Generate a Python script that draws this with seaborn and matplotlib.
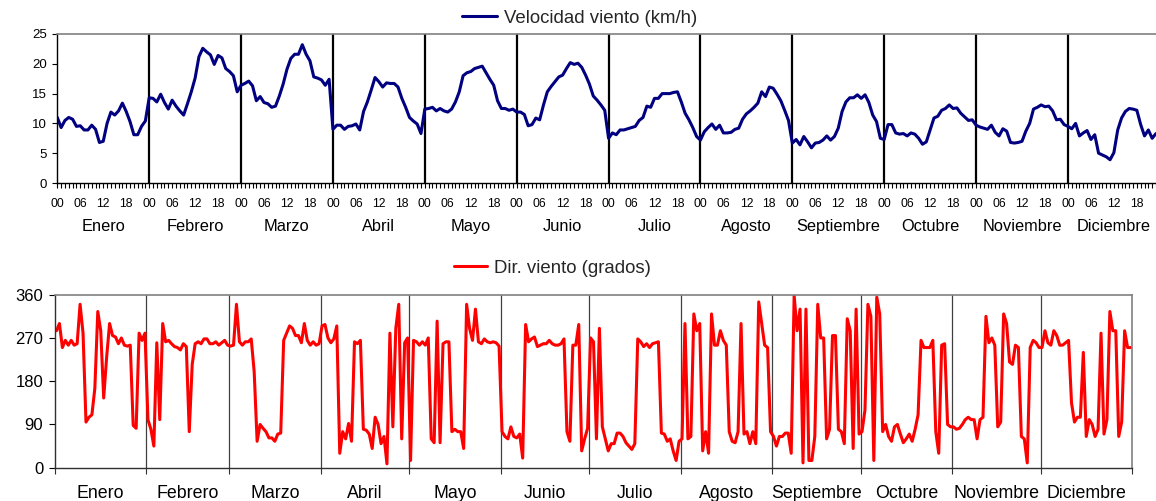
import numpy as np
import pandas as pd
import matplotlib
matplotlib.use("Agg")
import matplotlib.pyplot as plt
import matplotlib.transforms as mtransforms
import seaborn as sns

# ---------------- data ----------------
meses = ["Enero", "Febrero", "Marzo", "Abril", "Mayo", "Junio", "Julio",
         "Agosto", "Septiembre", "Octubre", "Noviembre", "Diciembre"]
horas = list(range(24))
etiquetas_hora = ["00", "06", "12", "18"]
dias_mes = [31, 28, 31, 30, 31, 30, 31, 31, 30, 31, 30, 31]

# Velocidad media horaria (km/h) por mes
vel_ene = [11.0, 9.3, 10.5, 11.0, 10.7, 9.5, 9.6, 8.9, 8.9, 9.7, 9.0, 6.8, 7.0, 10.0, 11.9, 11.4, 12.1, 13.4, 12.0, 10.3, 8.1, 8.1, 9.5, 10.4]
vel_feb = [14.3, 14.2, 13.6, 14.9, 13.5, 12.4, 13.9, 12.9, 12.1, 11.4, 13.3, 15.3, 17.6, 21.2, 22.6, 22.0, 21.5, 19.9, 21.4, 21.0, 19.2, 18.7, 18.0, 15.3]
vel_mar = [16.4, 16.7, 17.1, 16.3, 13.8, 14.5, 13.5, 13.3, 12.7, 12.9, 14.6, 16.6, 19.1, 20.9, 21.6, 21.6, 23.2, 21.6, 20.5, 17.8, 17.6, 17.3, 16.4, 17.4]
vel_abr = [9.0, 9.7, 9.7, 9.0, 9.5, 9.6, 9.9, 8.9, 12.0, 13.6, 15.6, 17.7, 17.0, 16.1, 16.8, 16.7, 16.7, 16.1, 14.2, 12.7, 11.0, 10.4, 9.9, 8.3]
vel_may = [12.4, 12.5, 12.7, 12.1, 12.5, 12.1, 11.9, 12.4, 13.6, 15.3, 18.0, 18.5, 18.7, 19.2, 19.4, 19.6, 18.5, 17.4, 16.4, 13.8, 12.5, 12.5, 12.2, 12.4]
vel_jun = [11.9, 11.9, 11.5, 9.6, 9.8, 10.9, 10.6, 13.1, 15.3, 16.2, 17.0, 17.8, 18.1, 19.2, 20.2, 19.9, 20.1, 19.4, 18.1, 16.6, 14.6, 13.9, 13.1, 12.2]
vel_jul = [7.5, 8.4, 8.1, 8.9, 8.9, 9.1, 9.3, 9.5, 10.5, 11.0, 12.9, 12.7, 14.2, 14.2, 15.0, 15.0, 15.0, 15.2, 15.3, 13.6, 11.7, 10.6, 9.3, 7.8]
vel_ago = [7.2, 8.6, 9.3, 9.9, 9.0, 9.7, 8.4, 8.4, 8.5, 9.0, 9.2, 10.7, 11.6, 12.1, 12.7, 13.4, 15.3, 14.5, 16.1, 15.9, 14.9, 13.8, 12.2, 10.5]
vel_sep = [6.7, 7.3, 6.4, 7.8, 6.9, 5.9, 6.7, 6.8, 7.2, 7.9, 7.2, 7.8, 9.2, 12.0, 13.6, 14.3, 14.3, 14.8, 14.2, 14.8, 13.5, 11.4, 10.3, 7.5]
vel_oct = [7.3, 9.8, 9.8, 8.4, 8.2, 8.3, 7.9, 8.4, 8.2, 7.5, 6.5, 6.9, 8.9, 10.9, 11.2, 12.2, 12.5, 13.1, 12.5, 12.6, 11.7, 11.1, 10.5, 10.6]
vel_nov = [9.7, 9.4, 9.2, 9.0, 9.7, 8.5, 7.9, 9.1, 8.7, 6.8, 6.7, 6.8, 7.0, 8.7, 10.0, 12.4, 12.7, 13.1, 12.8, 12.9, 12.1, 10.6, 10.7, 9.8]
vel_dic = [9.5, 9.1, 10.0, 7.9, 8.4, 8.8, 7.3, 8.1, 5.0, 4.7, 4.4, 3.9, 5.1, 8.9, 10.9, 12.0, 12.5, 12.4, 12.2, 9.8, 7.9, 8.9, 7.5, 8.3]

# Dirección media diaria (grados) por mes
dir_ene = [285, 300, 250, 265, 255, 265, 255, 258, 340, 280, 95, 105, 110, 165, 325, 285, 145, 230, 300, 275, 272, 258, 270, 255, 253, 255, 88, 82, 280, 265, 280]
dir_feb = [100, 80, 45, 260, 100, 300, 262, 265, 258, 252, 250, 245, 258, 252, 75, 215, 258, 262, 258, 268, 268, 258, 258, 262, 255, 260, 265, 255]
dir_mar = [253, 255, 340, 262, 255, 262, 262, 268, 200, 55, 90, 82, 75, 62, 62, 55, 70, 72, 265, 280, 295, 290, 275, 275, 260, 300, 265, 255, 262, 255, 258]
dir_abr = [295, 298, 270, 260, 268, 295, 30, 75, 60, 92, 55, 262, 258, 265, 80, 78, 70, 40, 105, 90, 50, 65, 8, 280, 85, 290, 340, 60, 260, 270]
dir_may = [15, 265, 262, 255, 262, 255, 270, 60, 52, 305, 52, 258, 262, 262, 75, 80, 75, 75, 40, 340, 290, 265, 330, 262, 258, 268, 262, 260, 262, 260, 253]
dir_jun = [75, 65, 60, 85, 65, 62, 70, 20, 298, 262, 268, 272, 252, 255, 258, 258, 265, 258, 255, 255, 258, 268, 75, 55, 255, 255, 298, 35, 60, 82]
dir_jul = [270, 262, 60, 290, 85, 60, 35, 50, 50, 72, 72, 65, 52, 45, 38, 50, 268, 262, 252, 258, 250, 258, 260, 262, 72, 70, 55, 60, 35, 15, 55]
dir_ago = [60, 300, 60, 65, 320, 285, 300, 35, 75, 30, 320, 255, 255, 285, 265, 255, 75, 55, 52, 75, 300, 70, 75, 50, 75, 50, 345, 300, 255, 250, 75]
dir_sep = [65, 45, 65, 65, 72, 72, 30, 358, 285, 330, 10, 330, 15, 15, 65, 340, 270, 270, 60, 80, 275, 275, 80, 75, 50, 310, 285, 40, 330, 70]
dir_oct = [75, 120, 340, 315, 15, 355, 320, 75, 90, 65, 55, 85, 90, 70, 52, 60, 70, 55, 80, 110, 265, 250, 250, 250, 265, 75, 30, 255, 258, 90, 85]
dir_nov = [85, 80, 82, 90, 100, 105, 100, 100, 60, 100, 105, 315, 260, 270, 255, 85, 95, 320, 300, 220, 215, 255, 250, 65, 60, 10, 250, 265, 260, 250]
dir_dic = [250, 285, 260, 255, 285, 275, 255, 255, 260, 265, 135, 95, 105, 105, 240, 65, 100, 90, 65, 80, 280, 70, 100, 325, 285, 285, 65, 95, 285, 250, 250]

vel_meses = [vel_ene, vel_feb, vel_mar, vel_abr, vel_may, vel_jun,
             vel_jul, vel_ago, vel_sep, vel_oct, vel_nov, vel_dic]
dir_meses = [dir_ene, dir_feb, dir_mar, dir_abr, dir_may, dir_jun,
             dir_jul, dir_ago, dir_sep, dir_oct, dir_nov, dir_dic]

# ---------------- tables ----------------
rows = []
for m, serie in enumerate(vel_meses):
    for h, v in zip(horas, serie):
        rows.append({"pos": m * 24 + h, "vel": v})
df_vel = pd.DataFrame(rows)

rows = []
inicio = np.concatenate([[0], np.cumsum(dias_mes)])
for m, serie in enumerate(dir_meses):
    for d, v in enumerate(serie):
        rows.append({"pos": inicio[m] + d + 0.5, "dir": v})
df_dir = pd.DataFrame(rows)

# ---------------- style ----------------
sns.set_style("white")
plt.rcParams["font.family"] = ["Liberation Sans", "DejaVu Sans"]

W, H = 1156, 501
fig = plt.figure(figsize=(W / 100, H / 100), dpi=100)

# ---------- top panel: wind speed ----------
ax1 = fig.add_axes([57.3 / W, 1 - 183 / H, (W - 57.3) / W, 149 / H])
sns.lineplot(data=df_vel, x="pos", y="vel", ax=ax1, color="#000080",
             linewidth=2.2, label="Velocidad viento (km/h)",
             estimator=None, errorbar=None, sort=False)
h1, l1 = ax1.get_legend_handles_labels()
if ax1.get_legend():
    ax1.get_legend().remove()

ax1.set_xlim(0, (W - 57.3) / (92 / 24))
ax1.set_ylim(0, 25)
ax1.set_yticks(range(0, 26, 5))
ax1.set_xticks(range(0, 288))
ax1.set_xticklabels([f"{i % 24:02d}" if i % 6 == 0 else "" for i in range(288)])
ax1.set_xlabel("")
ax1.set_ylabel("")
for m in range(1, 12):
    ax1.axvline(24 * m, color="black", lw=1.6, zorder=1)
for s in ["left", "bottom"]:
    ax1.spines[s].set_color("black")
    ax1.spines[s].set_linewidth(1.0)
ax1.spines["top"].set_color("#808080")
ax1.spines["top"].set_linewidth(1.2)
ax1.spines["right"].set_visible(False)
ax1.tick_params(axis="x", bottom=True, length=3.5, width=0.8, pad=7,
                labelsize=8.8, colors="black")
ax1.tick_params(axis="y", left=True, length=3.5, width=0.8, pad=4,
                labelsize=9.5, colors="black")
tr1 = mtransforms.blended_transform_factory(ax1.transData, ax1.transAxes)
for m, nombre in enumerate(meses):
    ax1.text(24 * m + 12, -0.29, nombre, transform=tr1, ha="center",
             va="center", fontsize=11.8, color="black")

fig.legend(h1, l1, loc="center", bbox_to_anchor=(0.5013, 1 - 18 / H),
           frameon=False, fontsize=13.4, handlelength=1.9, handletextpad=0.35,
           borderpad=0, borderaxespad=0)

# ---------- bottom panel: wind direction ----------
ax2 = fig.add_axes([55 / W, 1 - 467.7 / H, 1077 / W, 173 / H])
sns.lineplot(data=df_dir, x="pos", y="dir", ax=ax2, color="#FF0000",
             linewidth=2.2, label="Dir. viento (grados)",
             estimator=None, errorbar=None, sort=False)
h2, l2 = ax2.get_legend_handles_labels()
if ax2.get_legend():
    ax2.get_legend().remove()

ax2.set_xlim(0, 365)
ax2.set_ylim(0, 360)
ax2.set_yticks(range(0, 361, 90))
ax2.set_xticks(inicio)
ax2.set_xticklabels([])
ax2.set_xlabel("")
ax2.set_ylabel("")
for b in inicio[1:-1]:
    ax2.axvline(b, color="#404040", lw=0.9, zorder=1)
for s in ["left", "bottom"]:
    ax2.spines[s].set_color("#303030")
    ax2.spines[s].set_linewidth(1.0)
for s in ["top", "right"]:
    ax2.spines[s].set_color("#808080")
    ax2.spines[s].set_linewidth(1.2)
ax2.tick_params(axis="x", bottom=True, length=4.5, width=0.8,
                colors="#303030")
ax2.tick_params(axis="y", left=True, length=4.5, width=0.8, pad=4,
                labelsize=12, colors="black")
tr2 = mtransforms.blended_transform_factory(ax2.transData, ax2.transAxes)
for m, nombre in enumerate(meses):
    ax2.text(inicio[m] + dias_mes[m] / 2, -0.148, nombre, transform=tr2,
             ha="center", va="center", fontsize=12.8, color="black")

fig.legend(h2, l2, loc="center", bbox_to_anchor=(0.4775, 1 - 268 / H),
           frameon=False, fontsize=13.4, handlelength=1.8, handletextpad=0.35,
           borderpad=0, borderaxespad=0)

fig.savefig("out.png", dpi=100, facecolor="white")
